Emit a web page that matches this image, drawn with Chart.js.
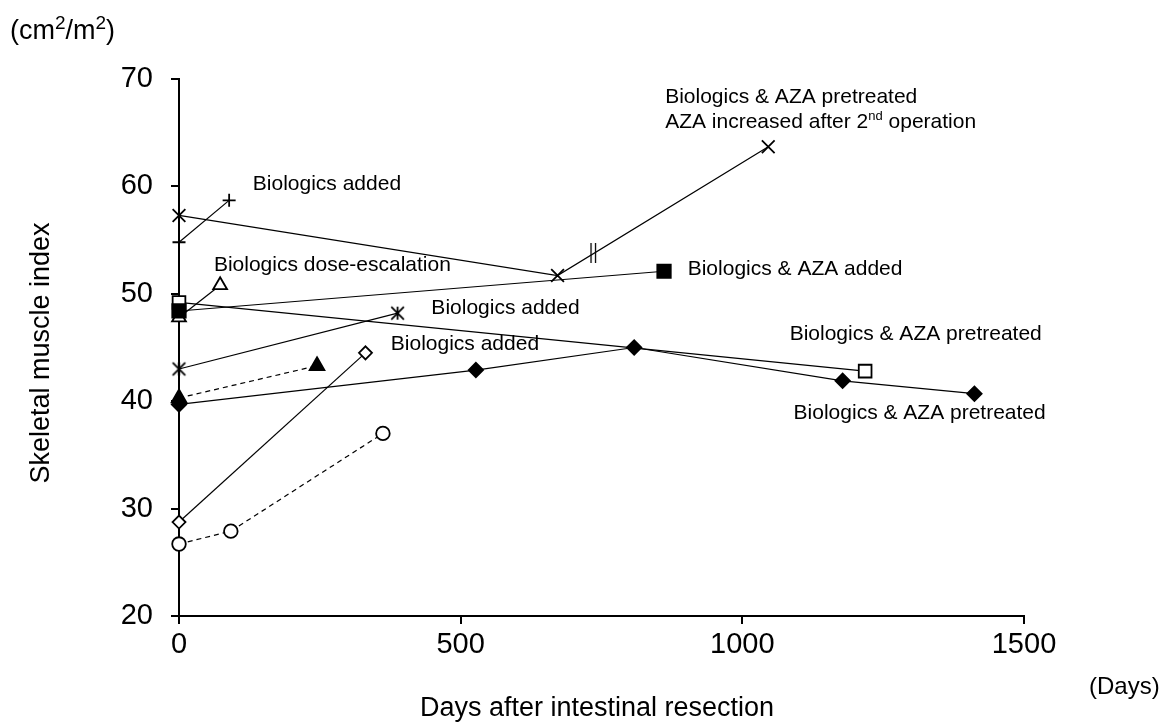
<!DOCTYPE html>
<html><head><meta charset="utf-8">
<script src="https://cdn.jsdelivr.net/npm/chart.js@4.4.1/dist/chart.umd.min.js"></script>
<style>html,body{margin:0;padding:0;background:#fff;}</style>
</head><body>
<canvas id="c" width="1172" height="724"></canvas>
<script>
// ---- tick labels ----
const xTicks = [0, 500, 1000, 1500];
const yTicks = [20, 30, 40, 50, 60, 70];

// ---- series (days, skeletal muscle index) ----
const crossDays = [0, 672, 1046];         const crossVals = [57.3, 51.7, 63.7];
const plusDays = [0, 89];                 const plusVals = [54.8, 58.7];
const openTriDays = [0, 73];              const openTriVals = [47.8, 50.8];
const filledSqDays = [0, 861];            const filledSqVals = [48.4, 52.1];
const openSqDays = [0, 1218];             const openSqVals = [49.2, 42.8];
const starDays = [0, 388];                const starVals = [43.0, 48.2];
const filledTriDays = [0, 245];           const filledTriVals = [40.3, 43.3];
const filledDiaDays = [0, 527, 808, 1178, 1412]; const filledDiaVals = [39.7, 42.9, 45.0, 41.9, 40.7];
const openDiaDays = [0, 331];             const openDiaVals = [28.75, 44.5];
const circleDays = [0, 92, 362];          const circleVals = [26.7, 27.9, 37.0];
const opMarkDays = [735];                 const opMarkVals = [53.8];   // "||" 2nd operation mark

// ---- annotations (anchored at day / value) ----
const noteTexts = [
  "Biologics added",
  "Biologics dose-escalation",
  "Biologics added",
  "Biologics added",
  "Biologics & AZA added",
  "Biologics & AZA pretreated",
  "Biologics & AZA pretreated",
  "Biologics & AZA pretreated",
  "AZA increased after 2^{nd} operation"
];
const noteDays = [131, 62, 448, 376, 903, 1084, 1091, 863, 863];
const noteVals = [59.7, 52.1, 48.16, 44.74, 51.72, 45.73, 38.38, 67.8, 65.44];

const FONT = '"Liberation Sans", Arial, Helvetica, sans-serif';

function mk(days, vals) { return days.map((d, i) => ({ x: d, y: vals[i] })); }

function makeStar(r) {
  const s = Math.ceil(r * 2 + 4), c = document.createElement('canvas');
  c.width = s; c.height = s;
  const g = c.getContext('2d'); const m = s / 2;
  g.strokeStyle = '#000'; g.lineWidth = 1.8;
  g.beginPath();
  g.moveTo(m - r, m - r); g.lineTo(m + r, m + r);
  g.moveTo(m + r, m - r); g.lineTo(m - r, m + r);
  g.moveTo(m, m - r * 1.05); g.lineTo(m, m + r * 1.05);
  g.stroke();
  return c;
}
function makeBreak() {
  const c = document.createElement('canvas'); c.width = 14; c.height = 24;
  const g = c.getContext('2d'); g.strokeStyle = '#000'; g.lineWidth = 1.3;
  g.beginPath();
  g.moveTo(5, 2); g.lineTo(5, 22);
  g.moveTo(9.5, 2); g.lineTo(9.5, 22);
  g.stroke();
  return c;
}

function ds(data, style, radius, filled, dashed, extra) {
  return Object.assign({
    data, showLine: true, clip: false,
    borderColor: '#000', borderWidth: 1.2, borderDash: dashed ? [5, 4] : [],
    pointStyle: style, pointRadius: radius, pointHoverRadius: radius,
    pointBorderColor: '#000', pointBorderWidth: 1.8,
    pointBackgroundColor: filled ? '#000' : '#fff'
  }, extra || {});
}

const datasets = [
  ds(mk(opMarkDays, opMarkVals), makeBreak(), 8, true, false, { showLine: false }),
  ds(mk(crossDays, crossVals), 'crossRot', 9, true, false),
  ds(mk(plusDays, plusVals), 'cross', 6.5, true, false),
  ds(mk(starDays, starVals), makeStar(6.3), 7, true, false),
  ds(mk(filledSqDays, filledSqVals), 'rect', 9.5, true, false),
  ds(mk(openSqDays, openSqVals), 'rect', 9, false, false),
  ds(mk(openTriDays, openTriVals), 'triangle', 8, false, false),
  ds(mk(filledTriDays, filledTriVals), 'triangle', 8.5, true, true),
  ds(mk(filledDiaDays, filledDiaVals), 'rectRot', 7.2, true, false),
  ds(mk(openDiaDays, openDiaVals), 'rectRot', 6.5, false, false),
  ds(mk(circleDays, circleVals), 'circle', 6.8, false, true)
];

function drawRich(ctx, text, x, y, size, supScale) {
  const sc = supScale || 0.62;
  const parts = text.split(/(\^\{[^}]*\})/).filter(p => p.length);
  let cx = x;
  parts.forEach(p => {
    if (p.startsWith('^{')) {
      const t = p.slice(2, -1);
      ctx.font = Math.round(size * sc) + 'px ' + FONT;
      ctx.fillText(t, cx, y - size * 0.38);
      cx += ctx.measureText(t).width;
    } else {
      ctx.font = size + 'px ' + FONT;
      ctx.fillText(p, cx, y);
      cx += ctx.measureText(p).width;
    }
  });
}

const textPlugin = {
  id: 'texts',
  afterDraw(chart) {
    const { ctx } = chart; const xs = chart.scales.x, ys = chart.scales.y;
    ctx.save();
    ctx.fillStyle = '#000'; ctx.textAlign = 'left'; ctx.textBaseline = 'alphabetic';
    noteTexts.forEach((t, i) => drawRich(ctx, t, xs.getPixelForValue(noteDays[i]), ys.getPixelForValue(noteVals[i]), 21));
    // unit labels and axis titles
    drawRich(ctx, '(cm^{2}/m^{2})', 10, 39, 27, 0.7);
    drawRich(ctx, '(Days)', 1089, 694, 24);
    ctx.font = '27px ' + FONT; ctx.textAlign = 'center';
    ctx.fillText('Days after intestinal resection', 597, 716);
    ctx.translate(49, 353); ctx.rotate(-Math.PI / 2);
    ctx.fillText('Skeletal muscle index', 0, 0);
    ctx.restore();
  }
};

new Chart(document.getElementById('c'), {
  type: 'scatter',
  data: { datasets },
  plugins: [textPlugin],
  options: {
    responsive: false, animation: false, devicePixelRatio: 1,
    layout: { padding: { top: 79, right: 148, bottom: 0, left: 0 } },
    plugins: { legend: { display: false }, tooltip: { enabled: false } },
    elements: { line: { tension: 0 } },
    scales: {
      x: {
        type: 'linear', min: 0, max: 1500,
        afterBuildTicks: s => { s.ticks = xTicks.map(v => ({ value: v })); },
        afterFit: s => { s.height = 108; },
        grid: { display: true, drawOnChartArea: false, drawTicks: true, tickLength: 8, color: '#000', lineWidth: 2 },
        border: { display: true, color: '#000', width: 2 },
        ticks: { color: '#000', font: { family: FONT, size: 29 }, padding: 4, maxRotation: 0, autoSkip: false,
                 callback: v => String(v) }
      },
      y: {
        type: 'linear', min: 20, max: 70,
        afterBuildTicks: s => { s.ticks = yTicks.map(v => ({ value: v })); },
        afterFit: s => { s.width = 179; },
        grid: { display: true, drawOnChartArea: false, drawTicks: true, tickLength: 8, color: '#000', lineWidth: 2 },
        border: { display: true, color: '#000', width: 2 },
        ticks: { color: '#000', font: { family: FONT, size: 29 }, padding: 18, callback: v => String(v) }
      }
    }
  }
});
</script>
</body></html>
